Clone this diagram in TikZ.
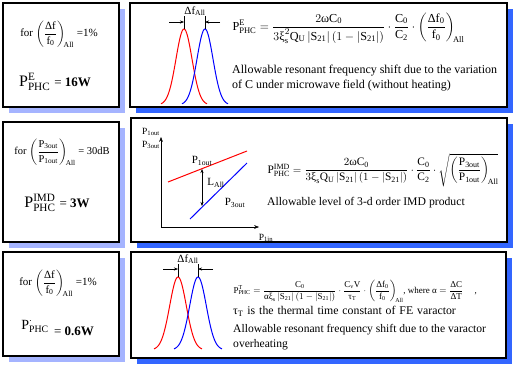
\documentclass[tikz,border=0pt]{standalone}
\usepackage{amsmath}
\usepackage{fontspec}
\setmainfont{Liberation Serif}
\usetikzlibrary{arrows.meta}
\definecolor{shadowblue}{RGB}{51,102,255}
\definecolor{paleblue}{RGB}{165,180,255}
% upright greek taken from the text font
\newcommand{\uD}{\text{Δ}}
\newcommand{\uw}{\text{ω}}
\newcommand{\ux}{\text{ξ}}
\newcommand{\ua}{\text{α}}
\newcommand{\ut}{\text{τ}}

\begin{document}
\begin{tikzpicture}[x=1pt, y=-1pt, >=Stealth,
    lbox/.style={draw=black, line width=1.2pt, fill=white},
    curve/.style={line width=1pt},
    dimarrow/.style={->, thin, >={Stealth[length=4pt, width=3pt]}}]

    \useasboundingbox (0,0) rectangle (516,365);

    % draw the shadows first, pale on the left, strong blue on the right:
    \fill[paleblue] (9,9) rectangle (125,113);
    \fill[paleblue] (9,128) rectangle (125,248);
    \fill[paleblue] (9,258) rectangle (125,362);
    \fill[shadowblue] (136,9) rectangle (513,113);
    \fill[shadowblue] (137,124) rectangle (513,248);
    \fill[shadowblue] (137,258) rectangle (512,364);

    % the six boxes:
    \draw[lbox] (3,3) rectangle (119,107);
    \draw[lbox] (3,122) rectangle (119,242);
    \draw[lbox] (3,252) rectangle (119,356);
    \draw[lbox] (130,3) rectangle (507,107);
    \draw[lbox] (131,118) rectangle (507,242);
    \draw[lbox] (131,252) rectangle (506,358);

    % first row, left box:
    \node[font=\fontsize{11}{13}\selectfont] (forE) at (59,34)
        {for $\left(\dfrac{\uD\mathrm{f}}{\mathrm{f_0}}\right)_{\!\rm All}$ =1\%};
    \node[font=\fontsize{16}{18}\selectfont] (valE) at (55,82)
        {$\mathrm{P^{E}_{PHC}}$ {\fontsize{13}{15}\selectfont= \textbf{16W}}};

    % first row, red and blue resonance curves:
    \draw[curve, red] plot[domain=-23:23, samples=60] ({184+\x}, {105-76*exp(-\x*\x/128)});
    \draw[curve, blue] plot[domain=-23:23, samples=60] ({205+\x}, {105-76*exp(-\x*\x/128)});
    \coordinate (peakR) at (184,29);
    \coordinate (peakB) at (205,29);
    \draw[thin] (peakR) -- ++(0,-13);
    \draw[thin] (peakB) -- ++(0,-13);
    \draw[dimarrow] (169,22) -- (184,22);
    \draw[dimarrow] (220,22) -- (205,22);
    \node[font=\fontsize{11}{13}\selectfont] (dfE) at (195,11) {$\uD\mathrm{f_{All}}$};

    % first row, formula and text:
    \node[anchor=west, font=\fontsize{12.2}{14}\selectfont] (formE) at (229,28)
        {$\mathrm{P^{E}_{PHC}} = \dfrac{2\uw\mathrm{C_0}}{3\ux^{2}_{\rm s}\mathrm{Q_U}\left|\mathrm{S_{21}}\right|\left(1-\left|\mathrm{S_{21}}\right|\right)}\cdot\dfrac{\mathrm{C_0}}{\mathrm{C_2}}\cdot\left(\dfrac{\uD\mathrm{f_0}}{\mathrm{f_0}}\right)_{\!\rm All}$};
    \node[anchor=north west, align=left, inner sep=0pt, font=\fontsize{12}{15}\selectfont] (txtE) at (232,65)
        {Allowable resonant frequency shift due to the variation\\of C under microwave field (without heating)};

    % second row, left box:
    \node[font=\fontsize{10.5}{12}\selectfont] (forIMD) at (62,152)
        {for $\left(\dfrac{\mathrm{P_{3out}}}{\mathrm{P_{1out}}}\right)_{\!\rm All}$ = 30dB};
    \node[font=\fontsize{16}{18}\selectfont] (valIMD) at (57,203)
        {$\mathrm{P^{IMD}_{PHC}}$ {\fontsize{13}{15}\selectfont= \textbf{3W}}};

    % second row, axes and the two output lines:
    \coordinate (orig) at (161,227);
    \draw[->, thin] (orig) -- (161,137);
    \draw[->, thin] (orig) -- (259,227);
    \node[font=\fontsize{9.5}{10}\selectfont] (yA) at (151,132) {$\mathrm{P_{1out}}$};
    \node[font=\fontsize{9.5}{10}\selectfont] (yB) at (151,145) {$\mathrm{P_{3out}}$};
    \node[font=\fontsize{9.5}{10}\selectfont] (xA) at (266,238) {$\mathrm{P_{1in}}$};
    \draw[curve, red] (168,182) -- (247,151);
    \draw[curve, blue] (190,219) -- (247,163);
    \draw[<->, thin, >={Stealth[length=4pt, width=3pt]}] (202,169) -- (202,206);
    \node[font=\fontsize{11}{12}\selectfont] (lblR) at (202,161) {$\mathrm{P_{1out}}$};
    \node[font=\fontsize{11}{12}\selectfont] (lblL) at (216,183) {$\mathrm{L_{All}}$};
    \node[font=\fontsize{11}{12}\selectfont] (lblB) at (235,203) {$\mathrm{P_{3out}}$};

    % second row, formula and text:
    \node[anchor=west, font=\fontsize{11.4}{13}\selectfont] (formIMD) at (264,170)
        {$\mathrm{P^{IMD}_{PHC}} = \dfrac{2\uw\mathrm{C_0}}{3\ux_{\rm s}\mathrm{Q_U}\left|\mathrm{S_{21}}\right|\left(1-\left|\mathrm{S_{21}}\right|\right)}\cdot\dfrac{\mathrm{C_0}}{\mathrm{C_2}}\cdot\sqrt{\left(\dfrac{\mathrm{P_{3out}}}{\mathrm{P_{1out}}}\right)_{\!\rm All}}$};
    \node[anchor=west, inner sep=0pt, font=\fontsize{11.7}{13}\selectfont] (txtIMD) at (267,203)
        {Allowable level of 3-d order IMD product};

    % third row, left box:
    \node[font=\fontsize{11}{13}\selectfont] (forT) at (58,283)
        {for $\left(\dfrac{\uD\mathrm{f}}{\mathrm{f_0}}\right)_{\!\rm All}$ =1\%};
    \node[font=\fontsize{14}{16}\selectfont] (valTa) at (35,326) {$\mathrm{P^{\cdot}_{PHC}}$};
    \node[font=\fontsize{13}{15}\selectfont] (valTb) at (74,331) {= \textbf{0.6W}};

    % third row, resonance curves:
    \draw[curve, red] plot[domain=-24:24, samples=60] ({178+\x}, {350-73*exp(-\x*\x/138)});
    \draw[curve, blue] plot[domain=-24:24, samples=60] ({198+\x}, {350-73*exp(-\x*\x/138)});
    \coordinate (peakTR) at (178,277);
    \coordinate (peakTB) at (198,277);
    \draw[thin] (peakTR) -- ++(0,-13);
    \draw[thin] (peakTB) -- ++(0,-13);
    \draw[dimarrow] (163,269) -- (178,269);
    \draw[dimarrow] (213,269) -- (198,269);
    \node[font=\fontsize{11}{13}\selectfont] (dfT) at (188,259) {$\uD\mathrm{f_{All}}$};

    % third row, formula and text:
    \node[anchor=west, font=\fontsize{9}{10}\selectfont] (formT) at (230,291)
        {$\mathrm{P^{T}_{PHC}} = \dfrac{\mathrm{C_0}}{\ua\ux_{\rm s}\left|\mathrm{S_{21}}\right|\left(1-\left|\mathrm{S_{21}}\right|\right)}\cdot\dfrac{\mathrm{C_vV}}{\ut_{\rm T}}\cdot\left(\dfrac{\uD\mathrm{f_0}}{\mathrm{f_0}}\right)_{\!\rm All}$, where $\ua = \dfrac{\uD\mathrm{C}}{\uD\mathrm{T}}$ \quad ,};
    \node[anchor=west, inner sep=0pt, font=\fontsize{11.8}{14}\selectfont, text width=236pt] (txtTa) at (233,311)
        {$\ut_{\rm T}$ is the thermal time constant of FE varactor};
    \node[anchor=north west, align=left, inner sep=0pt, font=\fontsize{11.6}{15}\selectfont] (txtTb) at (233,324)
        {Allowable resonant frequency shift due to the varactor\\overheating};

\end{tikzpicture}
\end{document}
